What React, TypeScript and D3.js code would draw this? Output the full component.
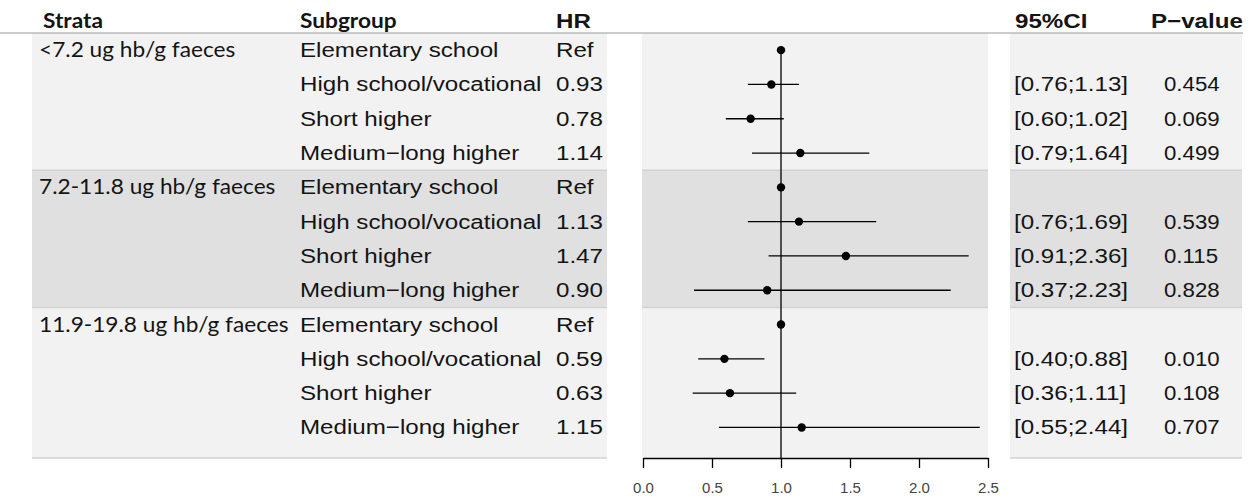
import { useEffect, useRef } from "react";
import { axisBottom, format, scaleBand, scaleLinear, select } from "d3";

// table content
const strata = [
  "<7.2 ug hb/g faeces",
  "7.2-11.8 ug hb/g faeces",
  "11.9-19.8 ug hb/g faeces",
];
const subgroups = [
  "Elementary school",
  "High school/vocational",
  "Short higher",
  "Medium\u2212long higher",
];
const hrValues = [
  [1, 0.93, 0.78, 1.14],
  [1, 1.13, 1.47, 0.9],
  [1, 0.59, 0.63, 1.15],
];
const lowerCI = [
  [null, 0.76, 0.6, 0.79],
  [null, 0.76, 0.91, 0.37],
  [null, 0.4, 0.36, 0.55],
];
const upperCI = [
  [null, 1.13, 1.02, 1.64],
  [null, 1.69, 2.36, 2.23],
  [null, 0.88, 1.11, 2.44],
];
const pValues = [
  ["", "0.454", "0.069", "0.499"],
  ["", "0.539", "0.115", "0.828"],
  ["", "0.010", "0.108", "0.707"],
];
const axisTicks = [0, 0.5, 1, 1.5, 2, 2.5];

interface Row {
  g: number;
  strata: string;
  subgroup: string;
  hr: number;
  lo: number | null;
  hi: number | null;
  p: string;
}

const rows: Row[] = [];
strata.forEach((s, g) => {
  subgroups.forEach((sub, i) => {
    rows.push({
      g,
      strata: i === 0 ? s : "",
      subgroup: sub,
      hr: hrValues[g][i],
      lo: lowerCI[g][i],
      hi: upperCI[g][i],
      p: pValues[g][i],
    });
  });
});

const ARIAL = "'Liberation Sans', Arial, sans-serif";
const CALIBRI = "Lato, 'Open Sans', sans-serif";
const SX = 1.15;
const SX_CAL = 1.08;
const SX_P = 1.06;

function Label({
  x,
  y,
  text,
  bold = false,
  family = ARIAL,
  size = 21,
  sx = SX,
}: {
  x: number;
  y: number;
  text: string;
  bold?: boolean;
  family?: string;
  size?: number;
  sx?: number;
}) {
  return (
    <text
      transform={`translate(${x},${y}) scale(${sx},1)`}
      fontFamily={family}
      fontSize={size}
      fontWeight={bold ? "bold" : "normal"}
      fill="#141414"
    >
      {text}
    </text>
  );
}

function AxisBottom({ scale, y }: { scale: any; y: number }) {
  const ref = useRef<SVGGElement>(null);
  useEffect(() => {
    if (!ref.current) return;
    const g = select(ref.current);
    g.call(
      axisBottom(scale)
        .tickValues(axisTicks)
        .tickFormat(format(".1f") as any)
        .tickSize(10)
        .tickSizeOuter(0)
        .tickPadding(14)
    );
    g.select(".domain").attr("stroke", "#000").attr("stroke-width", 1.3);
    g.selectAll(".tick line").attr("stroke", "#000").attr("stroke-width", 1.3);
    g.selectAll(".tick text")
      .attr("font-family", ARIAL)
      .attr("font-size", 15)
      .attr("fill", "#444");
  }, [scale]);
  return <g ref={ref} transform={`translate(0,${y})`} />;
}

export default function App() {
  const width = 1256;
  const height = 500;
  const top = 33;
  const bottom = 458;

  const yBand = scaleBand<number>()
    .domain(rows.map((_, i) => i))
    .range([top, top + rows.length * 34.3])
    .padding(0);
  const bw = yBand.bandwidth();
  const cy = (i: number) => (yBand(i) as number) + bw / 2;

  const x = scaleLinear().domain([0, 2.5]).range([643, 988]);

  const panels = [
    [32, 607],
    [642, 988],
    [1010, 1242],
  ];

  const groupTop = (g: number) => yBand(g * 4) as number;
  const groupBottom = (g: number) =>
    g === strata.length - 1 ? bottom : (yBand(g * 4 + 3) as number) + bw;

  return (
    <svg
      width={width}
      height={height}
      style={{ position: "absolute", left: 0, top: 0, background: "#fff" }}
    >
      {/* shaded group bands */}
      {panels.map(([x0, x1], pi) => (
        <g key={`panel-${pi}`}>
          {strata.map((_, g) => (
            <rect
              key={`band-${pi}-${g}`}
              x={x0}
              y={groupTop(g)}
              width={x1 - x0}
              height={groupBottom(g) - groupTop(g)}
              fill={g % 2 === 0 ? "#f2f2f2" : "#e0e0e0"}
            />
          ))}
          {strata.map((_, g) =>
            g === 0 ? null : (
              <line
                key={`sep-${pi}-${g}`}
                x1={x0}
                x2={x1}
                y1={groupTop(g)}
                y2={groupTop(g)}
                stroke="#d2d2d2"
                strokeWidth={1.5}
              />
            )
          )}
          {pi !== 1 && (
            <line
              x1={x0}
              x2={x1}
              y1={bottom}
              y2={bottom}
              stroke="#d2d2d2"
              strokeWidth={1.5}
            />
          )}
        </g>
      ))}

      {/* header */}
      <line x1={0} x2={1243} y1={top} y2={top} stroke="#9a9a9a" strokeWidth={1.2} />
      <Label x={43} y={28} text="Strata" bold family={CALIBRI} sx={SX_CAL} />
      <Label x={300} y={28} text="Subgroup" bold family={CALIBRI} sx={SX_CAL} />
      <Label x={556} y={28} text="HR" bold />
      <Label x={1015} y={28} text="95%CI" bold />
      <Label x={1151} y={28} text={"P\u2212value"} bold />

      {/* table text */}
      {rows.map((r, i) => (
        <g key={`row-${i}`}>
          {r.strata && (
            <Label
              x={39}
              y={cy(i) + 7}
              text={r.strata}
              family={CALIBRI}
              sx={SX_CAL}
            />
          )}
          <Label x={300} y={cy(i) + 7} text={r.subgroup} />
          <Label
            x={556}
            y={cy(i) + 7}
            text={r.lo === null ? "Ref" : r.hr.toFixed(2)}
          />
          {r.lo !== null && r.hi !== null && (
            <Label
              x={1014}
              y={cy(i) + 7}
              text={`[${r.lo.toFixed(2)};${r.hi.toFixed(2)}]`}
            />
          )}
          {r.p && <Label x={1164} y={cy(i) + 7} text={r.p} sx={SX_P} />}
        </g>
      ))}

      {/* reference line */}
      <line
        x1={x(1)}
        x2={x(1)}
        y1={cy(0)}
        y2={bottom}
        stroke="#000"
        strokeWidth={1.3}
      />

      {/* estimates */}
      {rows.map((r, i) => (
        <g key={`est-${i}`}>
          {r.lo !== null && r.hi !== null && (
            <line
              x1={x(r.lo)}
              x2={x(r.hi)}
              y1={cy(i)}
              y2={cy(i)}
              stroke="#000"
              strokeWidth={1.3}
            />
          )}
          <circle cx={x(r.hr)} cy={cy(i)} r={4.2} fill="#000" />
        </g>
      ))}

      <AxisBottom scale={x} y={bottom} />
    </svg>
  );
}
